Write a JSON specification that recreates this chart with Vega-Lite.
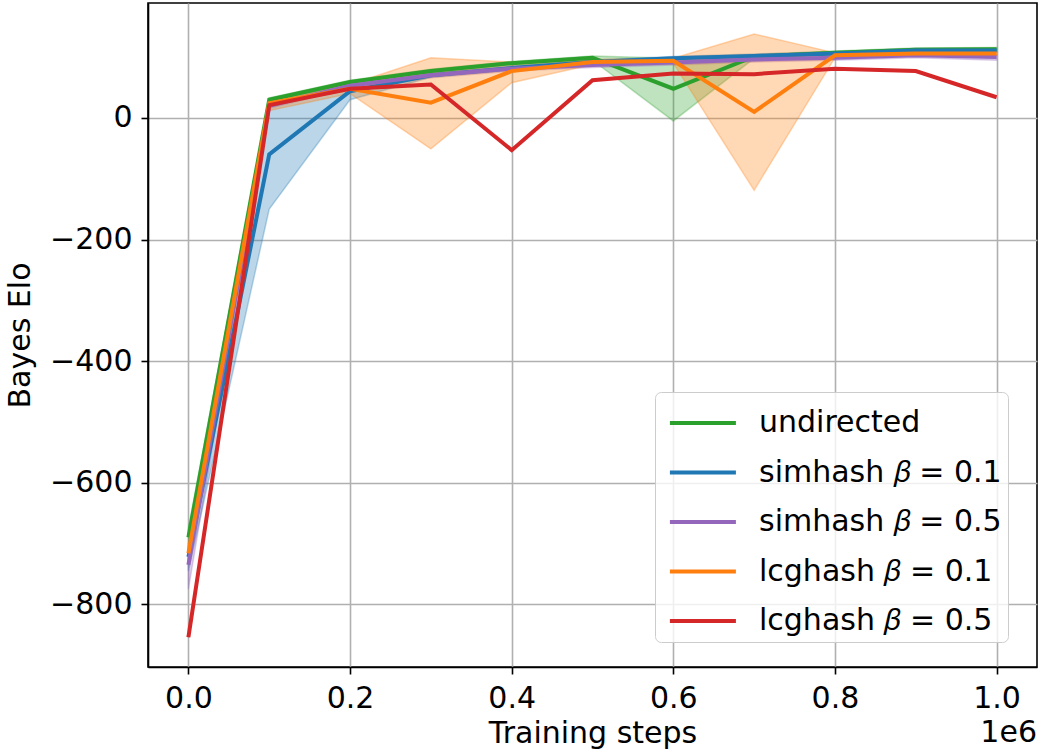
{
  "$schema": "https://vega.github.io/schema/vega-lite/v6.json",
  "width": 889,
  "height": 664,
  "autosize": "none",
  "padding": {"left": 148, "top": 3, "right": 3, "bottom": 82},
  "background": "white",
  "title": {"text": "1e6", "orient": "bottom", "anchor": "end", "frame": "group", "offset": -30, "baseline": "top", "fontSize": 30, "font": "DejaVu Sans", "fontWeight": "normal", "color": "black"},
  "config": {
    "view": {"stroke": "black", "strokeWidth": 1.6},
    "font": "DejaVu Sans",
    "axis": {
      "grid": true, "gridColor": "#b0b0b0", "gridWidth": 1.6,
      "domainColor": "black", "domainWidth": 1.6,
      "tickColor": "black", "tickWidth": 1.6, "tickSize": 7,
      "labelFont": "DejaVu Sans", "labelFontSize": 30, "labelColor": "black", "labelPadding": 9,
      "titleFont": "DejaVu Sans", "titleFontSize": 30, "titleFontWeight": "normal", "titleColor": "black"
    },
    "legend": {
      "labelFont": "DejaVu Sans", "labelFontSize": 30, "labelColor": "black"
    }
  },
  "data": {"values": [
    {"series": "undirected", "step": 0.0, "elo": -690, "lo": -705, "hi": -675},
    {"series": "undirected", "step": 0.1, "elo": 30, "lo": 26, "hi": 33},
    {"series": "undirected", "step": 0.2, "elo": 59, "lo": 56, "hi": 62},
    {"series": "undirected", "step": 0.3, "elo": 77, "lo": 74, "hi": 80},
    {"series": "undirected", "step": 0.4, "elo": 90, "lo": 87, "hi": 93},
    {"series": "undirected", "step": 0.5, "elo": 99, "lo": 95, "hi": 102},
    {"series": "undirected", "step": 0.6, "elo": 48, "lo": -5, "hi": 98},
    {"series": "undirected", "step": 0.7, "elo": 101, "lo": 98, "hi": 104},
    {"series": "undirected", "step": 0.8, "elo": 107, "lo": 104, "hi": 110},
    {"series": "undirected", "step": 0.9, "elo": 112, "lo": 109, "hi": 115},
    {"series": "undirected", "step": 1.0, "elo": 113, "lo": 110, "hi": 116},
    {"series": "simhash 𝛽 = 0.1", "step": 0.0, "elo": -722, "lo": -745, "hi": -700},
    {"series": "simhash 𝛽 = 0.1", "step": 0.1, "elo": -60, "lo": -150, "hi": 25},
    {"series": "simhash 𝛽 = 0.1", "step": 0.2, "elo": 44, "lo": 30, "hi": 52},
    {"series": "simhash 𝛽 = 0.1", "step": 0.3, "elo": 70, "lo": 67, "hi": 73},
    {"series": "simhash 𝛽 = 0.1", "step": 0.4, "elo": 82, "lo": 79, "hi": 85},
    {"series": "simhash 𝛽 = 0.1", "step": 0.5, "elo": 92, "lo": 89, "hi": 95},
    {"series": "simhash 𝛽 = 0.1", "step": 0.6, "elo": 98, "lo": 95, "hi": 101},
    {"series": "simhash 𝛽 = 0.1", "step": 0.7, "elo": 102, "lo": 99, "hi": 105},
    {"series": "simhash 𝛽 = 0.1", "step": 0.8, "elo": 106, "lo": 103, "hi": 109},
    {"series": "simhash 𝛽 = 0.1", "step": 0.9, "elo": 111, "lo": 108, "hi": 114},
    {"series": "simhash 𝛽 = 0.1", "step": 1.0, "elo": 111, "lo": 108, "hi": 114},
    {"series": "simhash 𝛽 = 0.5", "step": 0.0, "elo": -735, "lo": -775, "hi": -705},
    {"series": "simhash 𝛽 = 0.5", "step": 0.1, "elo": 20, "lo": 16, "hi": 24},
    {"series": "simhash 𝛽 = 0.5", "step": 0.2, "elo": 53, "lo": 49, "hi": 57},
    {"series": "simhash 𝛽 = 0.5", "step": 0.3, "elo": 70, "lo": 66, "hi": 74},
    {"series": "simhash 𝛽 = 0.5", "step": 0.4, "elo": 81, "lo": 77, "hi": 85},
    {"series": "simhash 𝛽 = 0.5", "step": 0.5, "elo": 87, "lo": 83, "hi": 91},
    {"series": "simhash 𝛽 = 0.5", "step": 0.6, "elo": 91, "lo": 87, "hi": 95},
    {"series": "simhash 𝛽 = 0.5", "step": 0.7, "elo": 96, "lo": 92, "hi": 100},
    {"series": "simhash 𝛽 = 0.5", "step": 0.8, "elo": 99, "lo": 95, "hi": 103},
    {"series": "simhash 𝛽 = 0.5", "step": 0.9, "elo": 103, "lo": 99, "hi": 107},
    {"series": "simhash 𝛽 = 0.5", "step": 1.0, "elo": 100, "lo": 95, "hi": 104},
    {"series": "lcghash 𝛽 = 0.1", "step": 0.0, "elo": -716, "lo": -730, "hi": -700},
    {"series": "lcghash 𝛽 = 0.1", "step": 0.1, "elo": 24, "lo": 12, "hi": 28},
    {"series": "lcghash 𝛽 = 0.1", "step": 0.2, "elo": 48, "lo": 40, "hi": 55},
    {"series": "lcghash 𝛽 = 0.1", "step": 0.3, "elo": 25, "lo": -51, "hi": 99},
    {"series": "lcghash 𝛽 = 0.1", "step": 0.4, "elo": 77, "lo": 58, "hi": 92},
    {"series": "lcghash 𝛽 = 0.1", "step": 0.5, "elo": 92, "lo": 88, "hi": 96},
    {"series": "lcghash 𝛽 = 0.1", "step": 0.6, "elo": 94, "lo": 90, "hi": 98},
    {"series": "lcghash 𝛽 = 0.1", "step": 0.7, "elo": 10, "lo": -119, "hi": 138},
    {"series": "lcghash 𝛽 = 0.1", "step": 0.8, "elo": 103, "lo": 99, "hi": 107},
    {"series": "lcghash 𝛽 = 0.1", "step": 0.9, "elo": 106, "lo": 103, "hi": 109},
    {"series": "lcghash 𝛽 = 0.1", "step": 1.0, "elo": 106, "lo": 103, "hi": 109},
    {"series": "lcghash 𝛽 = 0.5", "step": 0.0, "elo": -854, "lo": -854, "hi": -854},
    {"series": "lcghash 𝛽 = 0.5", "step": 0.1, "elo": 21, "lo": 21, "hi": 21},
    {"series": "lcghash 𝛽 = 0.5", "step": 0.2, "elo": 48, "lo": 48, "hi": 48},
    {"series": "lcghash 𝛽 = 0.5", "step": 0.3, "elo": 55, "lo": 55, "hi": 55},
    {"series": "lcghash 𝛽 = 0.5", "step": 0.4, "elo": -53, "lo": -53, "hi": -53},
    {"series": "lcghash 𝛽 = 0.5", "step": 0.5, "elo": 62, "lo": 62, "hi": 62},
    {"series": "lcghash 𝛽 = 0.5", "step": 0.6, "elo": 73, "lo": 73, "hi": 73},
    {"series": "lcghash 𝛽 = 0.5", "step": 0.7, "elo": 72, "lo": 72, "hi": 72},
    {"series": "lcghash 𝛽 = 0.5", "step": 0.8, "elo": 81, "lo": 81, "hi": 81},
    {"series": "lcghash 𝛽 = 0.5", "step": 0.9, "elo": 77, "lo": 77, "hi": 77},
    {"series": "lcghash 𝛽 = 0.5", "step": 1.0, "elo": 34, "lo": 34, "hi": 34}
  ]},
  "encoding": {
    "x": {
      "field": "step", "type": "quantitative", "title": "Training steps",
      "scale": {"domain": [-0.05, 1.05], "nice": false, "zero": false},
      "axis": {"values": [0, 0.2, 0.4, 0.6, 0.8, 1.0], "format": ".1f", "titlePadding": 5}
    }
  },
  "layer": [
    {
      "mark": {"type": "area", "fillOpacity": 0.3, "strokeOpacity": 0.3, "strokeWidth": 1.5},
      "encoding": {
        "y": {"field": "lo", "type": "quantitative"},
        "y2": {"field": "hi"},
        "color": {"field": "series", "type": "nominal", "sort": null,
          "scale": {"domain": ["undirected", "simhash 𝛽 = 0.1", "simhash 𝛽 = 0.5", "lcghash 𝛽 = 0.1", "lcghash 𝛽 = 0.5"],
                    "range": ["#2ca02c", "#1f77b4", "#9467bd", "#ff7f0e", "#d62728"]}},
        "stroke": {"field": "series", "type": "nominal", "legend": null,
          "scale": {"domain": ["undirected", "simhash 𝛽 = 0.1", "simhash 𝛽 = 0.5", "lcghash 𝛽 = 0.1", "lcghash 𝛽 = 0.5"],
                    "range": ["#2ca02c", "#1f77b4", "#9467bd", "#ff7f0e", "#d62728"]}}
      }
    },
    {
      "mark": {"type": "line", "strokeWidth": 4},
      "encoding": {
        "y": {
          "field": "elo", "type": "quantitative", "title": "Bayes Elo",
          "scale": {"domain": [-903, 189], "nice": false, "zero": false},
          "axis": {"values": [-800, -600, -400, -200, 0], "titlePadding": 14}
        },
        "color": {"field": "series", "type": "nominal", "sort": null,
          "legend": {
            "title": null, "orient": "none", "legendX": 507, "legendY": 389,
            "symbolType": "M-0.7,0H2.17", "symbolSize": 2116, "symbolStrokeWidth": 4,
            "symbolFillColor": "transparent",
            "rowPadding": 9.5, "padding": 6, "labelOffset": 48,
            "labelExpr": "datum.label + '\u2002'",
            "fillColor": "rgba(255,255,255,0.8)", "strokeColor": "#cccccc", "cornerRadius": 6,
            "labelLimit": 400
          }
        }
      }
    }
  ]
}
